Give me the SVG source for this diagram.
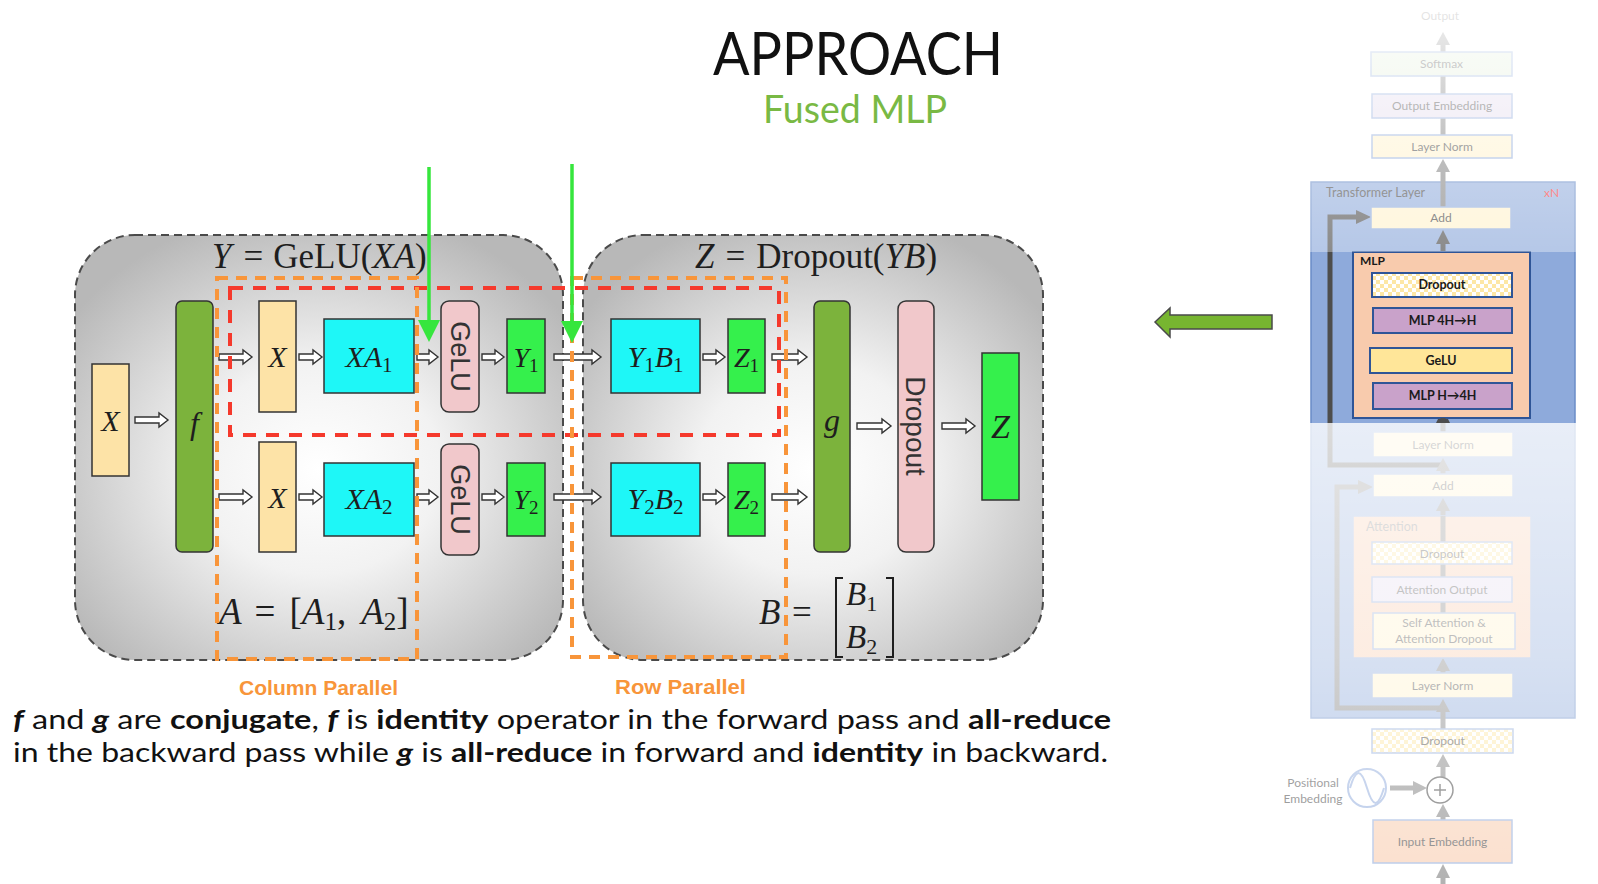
<svg xmlns="http://www.w3.org/2000/svg" width="1598" height="884" viewBox="0 0 1598 884">
<defs>
<radialGradient id="pg" cx="0.5" cy="0.55" r="0.62">
<stop offset="0" stop-color="#ffffff"/>
<stop offset="0.4" stop-color="#f2f2f2"/>
<stop offset="1" stop-color="#b8b8b8"/>
</radialGradient>
<linearGradient id="fadeTop" x1="0" y1="0" x2="0" y2="1">
<stop offset="0" stop-color="#ffffff" stop-opacity="0.9"/>
<stop offset="0.6" stop-color="#ffffff" stop-opacity="0.5"/>
<stop offset="1" stop-color="#ffffff" stop-opacity="0.35"/>
</linearGradient>
<linearGradient id="fadeBot" x1="0" y1="0" x2="0" y2="1">
<stop offset="0" stop-color="#ffffff" stop-opacity="0.8"/>
<stop offset="0.5" stop-color="#ffffff" stop-opacity="0.65"/>
<stop offset="1" stop-color="#ffffff" stop-opacity="0.4"/>
</linearGradient>
<pattern id="chk" width="8" height="8" patternUnits="userSpaceOnUse">
<rect width="8" height="8" fill="#ffffff"/>
<rect width="4" height="4" fill="#fde7a5"/>
<rect x="4" y="4" width="4" height="4" fill="#fde7a5"/>
</pattern>
<style>
.panel{fill:url(#pg);stroke:#4a4a4a;stroke-width:2;stroke-dasharray:8 5}
.bx{stroke:#333;stroke-width:1.5}
.xb{fill:#fde3a7}
.fg{fill:#7cb33c}
.cy{fill:#1ef7f7}
.pk{fill:#f1c8cb}
.gr{fill:#35f04c}
.dar{fill:#fff;stroke:#333;stroke-width:1.4}
.m{font-family:"Liberation Serif",serif;fill:#1e1e1e}
.it{font-style:italic}
.rot{font-family:"Liberation Sans",Arial,sans-serif;fill:#333}
.red{fill:none;stroke:#f5392c;stroke-width:4;stroke-dasharray:13 10}
.org{fill:none;stroke:#f8953a;stroke-width:4;stroke-dasharray:11 8}
.ga{stroke:#36e63d;stroke-width:3.5;fill:none}
.gah{fill:#36e63d}
.lbl{font-family:"Liberation Sans",Arial,sans-serif;font-weight:bold;font-size:21px;fill:#f8953a}
.body{font-family:Lato,"Open Sans",sans-serif;font-size:27px;fill:#111}
.b{font-weight:bold}
.bi{font-weight:bold;font-style:italic}
.tb{stroke:#8faadc;stroke-width:1.5}
.mb{stroke:#2f5597;stroke-width:2}
.t{font-family:Lato,"Open Sans",sans-serif;font-size:12px;fill:#404040;text-anchor:middle}
.tk{font-family:Lato,"Open Sans",sans-serif;font-size:12.5px;fill:#1a1a1a;font-weight:bold;text-anchor:middle}
.cn{stroke:#7f7f7f;stroke-width:5;fill:none}
.cnh{fill:#7f7f7f}
.cd{stroke:#4d4d4d;stroke-width:5;fill:none}
.cdh{fill:#4d4d4d}
</style>
</defs>
<rect width="1598" height="884" fill="#ffffff"/>

<g id="title">
<text x="713" y="75" font-family="Lato,'Open Sans',sans-serif" font-size="60" fill="#111" textLength="290" lengthAdjust="spacingAndGlyphs">APPROACH</text>
<text x="763" y="123" font-family="Lato,'Open Sans',sans-serif" font-size="39" fill="#79b944" textLength="184" lengthAdjust="spacingAndGlyphs">Fused MLP</text>
</g>

<g id="panel-left">
<rect class="panel" x="75" y="235" width="488" height="425" rx="60"/>
<text class="m" x="212" y="268" font-size="35"><tspan class="it">Y</tspan><tspan dx="12">=</tspan><tspan dx="10">GeLU(</tspan><tspan class="it">XA</tspan>)</text>
<text class="m" x="219" y="624" font-size="37"><tspan class="it">A</tspan><tspan dx="13">=</tspan><tspan dx="14">[</tspan><tspan class="it">A</tspan><tspan font-size="25" dy="6">1</tspan><tspan dy="-6">,</tspan><tspan dx="15" class="it">A</tspan><tspan font-size="25" dy="6">2</tspan><tspan dy="-6">]</tspan></text>
</g>
<g id="panel-right">
<rect class="panel" x="583" y="235" width="460" height="425" rx="60"/>
<text class="m" x="695" y="268" font-size="35"><tspan class="it">Z</tspan><tspan dx="11">=</tspan><tspan dx="11">Dropout(</tspan><tspan class="it">YB</tspan>)</text>
<text class="m it" x="759" y="624" font-size="35">B</text>
<text class="m" x="792" y="624" font-size="35">=</text>
<path d="M843 578 H836 V657 H843 M886 578 H893 V657 H886" fill="none" stroke="#1e1e1e" stroke-width="2"/>
<text class="m" x="846" y="605" font-size="33"><tspan class="it">B</tspan><tspan font-size="22" dy="6">1</tspan></text>
<text class="m" x="846" y="648" font-size="33"><tspan class="it">B</tspan><tspan font-size="22" dy="6">2</tspan></text>
</g>

<g id="node-x-in"><rect class="bx xb" x="92" y="364" width="37" height="112"/><text class="m it" x="110.5" y="431" font-size="30" text-anchor="middle">X</text></g>
<g id="node-f"><rect class="bx fg" x="176" y="301" width="37" height="251" rx="6"/><text class="m it" x="194.5" y="434" font-size="32" text-anchor="middle">f</text></g>

<g id="node-x1"><rect class="bx xb" x="259" y="301" width="37" height="111"/><text class="m it" x="277.5" y="367" font-size="30" text-anchor="middle">X</text></g>
<g id="node-xa1"><rect class="bx cy" x="324" y="319" width="90" height="74"/><text class="m" x="369" y="367" font-size="30" text-anchor="middle"><tspan class="it">XA</tspan><tspan font-size="21" dy="5">1</tspan></text></g>
<g id="node-gelu1"><rect class="bx pk" x="441" y="301" width="38" height="111" rx="8"/><text class="rot" transform="translate(460 356.5) rotate(90)" x="0" y="9.5" font-size="27" text-anchor="middle">GeLU</text></g>
<g id="node-y1"><rect class="bx gr" x="507" y="319" width="38" height="74"/><text class="m" x="526" y="367" font-size="28" text-anchor="middle"><tspan class="it">Y</tspan><tspan font-size="19" dy="5">1</tspan></text></g>
<g id="node-y1b1"><rect class="bx cy" x="611" y="319" width="89" height="74"/><text class="m" x="655.5" y="367" font-size="30" text-anchor="middle"><tspan class="it">Y</tspan><tspan font-size="21" dy="5">1</tspan><tspan class="it" dy="-5">B</tspan><tspan font-size="21" dy="5">1</tspan></text></g>
<g id="node-z1"><rect class="bx gr" x="728" y="319" width="37" height="74"/><text class="m" x="746.5" y="367" font-size="28" text-anchor="middle"><tspan class="it">Z</tspan><tspan font-size="19" dy="5">1</tspan></text></g>

<g id="node-x2"><rect class="bx xb" x="259" y="442" width="37" height="110"/><text class="m it" x="277.5" y="508" font-size="30" text-anchor="middle">X</text></g>
<g id="node-xa2"><rect class="bx cy" x="324" y="463" width="90" height="73"/><text class="m" x="369" y="509" font-size="30" text-anchor="middle"><tspan class="it">XA</tspan><tspan font-size="21" dy="5">2</tspan></text></g>
<g id="node-gelu2"><rect class="bx pk" x="441" y="444" width="38" height="111" rx="8"/><text class="rot" transform="translate(460 499.5) rotate(90)" x="0" y="9.5" font-size="27" text-anchor="middle">GeLU</text></g>
<g id="node-y2"><rect class="bx gr" x="507" y="463" width="38" height="73"/><text class="m" x="526" y="509" font-size="28" text-anchor="middle"><tspan class="it">Y</tspan><tspan font-size="19" dy="5">2</tspan></text></g>
<g id="node-y2b2"><rect class="bx cy" x="611" y="463" width="89" height="73"/><text class="m" x="655.5" y="509" font-size="30" text-anchor="middle"><tspan class="it">Y</tspan><tspan font-size="21" dy="5">2</tspan><tspan class="it" dy="-5">B</tspan><tspan font-size="21" dy="5">2</tspan></text></g>
<g id="node-z2"><rect class="bx gr" x="728" y="463" width="37" height="73"/><text class="m" x="746.5" y="509" font-size="28" text-anchor="middle"><tspan class="it">Z</tspan><tspan font-size="19" dy="5">2</tspan></text></g>

<g id="node-g"><rect class="bx fg" x="814" y="301" width="36" height="251" rx="6"/><text class="m it" x="832" y="431" font-size="32" text-anchor="middle">g</text></g>
<g id="node-dropout"><rect class="bx pk" x="898" y="301" width="36" height="251" rx="8"/><text class="rot" transform="translate(916 426) rotate(90)" x="0" y="10" font-size="28" text-anchor="middle">Dropout</text></g>
<g id="node-z"><rect class="bx gr" x="982" y="353" width="37" height="147"/><text class="m it" x="1000.5" y="438" font-size="34" text-anchor="middle">Z</text></g>

<g id="connectors">
<path class="dar" d="M135 417 H159 V413 L168 420 L159 427 V423 H135 Z"/>
<path class="dar" d="M219 354 H243 V350 L252 357 L243 364 V360 H219 Z"/>
<path class="dar" d="M299 354 H313 V350 L322 357 L313 364 V360 H299 Z"/>
<path class="dar" d="M417 354 H429 V350 L438 357 L429 364 V360 H417 Z"/>
<path class="dar" d="M482 354 H495 V350 L504 357 L495 364 V360 H482 Z"/>
<path class="dar" d="M554 354 H592 V350 L601 357 L592 364 V360 H554 Z"/>
<path class="dar" d="M703 354 H716 V350 L725 357 L716 364 V360 H703 Z"/>
<path class="dar" d="M772 354 H798 V350 L807 357 L798 364 V360 H772 Z"/>
<path class="dar" d="M219 494 H243 V490 L252 497 L243 504 V500 H219 Z"/>
<path class="dar" d="M299 494 H313 V490 L322 497 L313 504 V500 H299 Z"/>
<path class="dar" d="M417 494 H429 V490 L438 497 L429 504 V500 H417 Z"/>
<path class="dar" d="M482 494 H495 V490 L504 497 L495 504 V500 H482 Z"/>
<path class="dar" d="M554 494 H592 V490 L601 497 L592 504 V500 H554 Z"/>
<path class="dar" d="M703 494 H716 V490 L725 497 L716 504 V500 H703 Z"/>
<path class="dar" d="M772 494 H798 V490 L807 497 L798 504 V500 H772 Z"/>
<path class="dar" d="M857 423 H882 V419 L891 426 L882 433 V429 H857 Z"/>
<path class="dar" d="M942 423 H966 V419 L975 426 L966 433 V429 H942 Z"/>
</g>

<g id="highlight-boxes">
<rect class="red" x="230" y="288" width="549" height="147"/>
<rect class="org" x="217" y="278" width="200" height="381"/>
<rect class="org" x="572" y="278" width="214" height="379"/>
</g>
<g id="column-parallel-label"><text class="lbl" x="239" y="695" textLength="159" lengthAdjust="spacingAndGlyphs">Column Parallel</text></g>
<g id="row-parallel-label"><text class="lbl" x="615" y="694" textLength="131" lengthAdjust="spacingAndGlyphs">Row Parallel</text></g>

<g id="green-arrows">
<line class="ga" x1="429" y1="167" x2="429" y2="322"/>
<polygon class="gah" points="418,320 440,320 429,342"/>
<line class="ga" x1="572" y1="164" x2="572" y2="323"/>
<polygon class="gah" points="561,321 583,321 572,343"/>
</g>

<g id="caption">
<text class="body" x="13" y="729" textLength="1098" lengthAdjust="spacingAndGlyphs"><tspan class="bi">f</tspan> and <tspan class="bi">g</tspan> are <tspan class="b">conjugate</tspan>, <tspan class="bi">f</tspan> is <tspan class="b">identity</tspan> operator in the forward pass and <tspan class="b">all-reduce</tspan></text>
<text class="body" x="13" y="762" textLength="1095" lengthAdjust="spacingAndGlyphs">in the backward pass while <tspan class="bi">g</tspan> is <tspan class="b">all-reduce</tspan> in forward and <tspan class="b">identity</tspan> in backward.</text>
</g>

<g id="big-arrow"><polygon points="1155,322 1170,308 1170,315 1272,315 1272,329 1170,329 1170,337" fill="#77b530" stroke="#4a4a4a" stroke-width="1.5"/></g>

<g id="transformer">
<rect x="1311" y="182" width="264" height="536" fill="#8eaadb" stroke="#6a8cc7" stroke-width="1.5"/>
<text x="1326" y="197" font-family="Lato,'Open Sans',sans-serif" font-size="12.5" fill="#404040">Transformer Layer</text>
<text x="1544" y="197" font-family="Lato,'Open Sans',sans-serif" font-size="12" fill="#ff2a2a">xN</text>

<g id="tl-connectors">
<line class="cn" x1="1443" y1="52" x2="1443" y2="44"/><polygon class="cnh" points="1436,45 1450,45 1443,32"/>
<line class="cn" x1="1443" y1="76" x2="1443" y2="94"/>
<line class="cn" x1="1443" y1="118" x2="1443" y2="135"/>
<line class="cn" x1="1443" y1="207" x2="1443" y2="170"/><polygon class="cnh" points="1436,172 1450,172 1443,159"/>
<line class="cd" x1="1443" y1="252" x2="1443" y2="242"/><polygon class="cdh" points="1436,244 1450,244 1443,230"/>
<path class="cd" d="M1443 465 H1330 V217 H1358"/><polygon class="cdh" points="1356,210 1356,224 1371,217"/>
<line class="cd" x1="1443" y1="297" x2="1443" y2="308"/>
<line class="cd" x1="1443" y1="333" x2="1443" y2="348"/>
<line class="cd" x1="1443" y1="373" x2="1443" y2="383"/>
<line class="cd" x1="1443" y1="432" x2="1443" y2="420"/><polygon class="cdh" points="1436,423 1450,423 1443,409"/>
<line class="cn" x1="1443" y1="474" x2="1443" y2="469"/><polygon class="cnh" points="1436,471 1450,471 1443,458"/>
<line class="cn" x1="1443" y1="516" x2="1443" y2="509"/><polygon class="cnh" points="1436,511 1450,511 1443,498"/>
<path class="cn" d="M1443 708 H1337 V487 H1360"/><polygon class="cnh" points="1358,480 1358,494 1373,487"/>
<line class="cn" x1="1443" y1="673" x2="1443" y2="669"/><polygon class="cnh" points="1436,671 1450,671 1443,658"/>
<line class="cn" x1="1443" y1="729" x2="1443" y2="710"/><polygon class="cnh" points="1436,712 1450,712 1443,699"/>
<line class="cn" x1="1443" y1="777" x2="1443" y2="765"/><polygon class="cnh" points="1436,767 1450,767 1443,754"/>
<line class="cn" x1="1390" y1="788" x2="1415" y2="788"/><polygon class="cnh" points="1413,781 1413,795 1427,788"/>
<line class="cn" x1="1443" y1="820" x2="1443" y2="815"/><polygon class="cnh" points="1436,817 1450,817 1443,804"/>
<line class="cn" x1="1443" y1="884" x2="1443" y2="876"/><polygon class="cnh" points="1436,878 1450,878 1443,864"/>
</g>

<text class="t" x="1440" y="20" font-size="12.5">Output</text>
<g id="tl-softmax"><rect class="tb" x="1371" y="52" width="141" height="24" fill="#e2efda"/><text class="t" x="1441.5" y="68">Softmax</text></g>
<g id="tl-outemb"><rect class="tb" x="1372" y="94" width="140" height="24" fill="#e4dcee"/><text class="t" x="1442" y="110">Output Embedding</text></g>
<g id="tl-ln-top"><rect class="tb" x="1372" y="135" width="140" height="23" fill="#fff2cc"/><text class="t" x="1442" y="151">Layer Norm</text></g>
<g id="tl-add-top"><rect class="tb" x="1371" y="207" width="140" height="22" fill="#fff2cc"/><text class="t" x="1441" y="222">Add</text></g>

<g id="tl-mlp">
<rect class="mb" x="1353" y="252" width="177" height="166" fill="#f8cbad"/>
<text x="1360" y="265" font-family="Lato,'Open Sans',sans-serif" font-size="12" font-weight="bold" fill="#1a1a1a">MLP</text>
<rect class="mb" x="1372" y="273" width="140" height="24" fill="url(#chk)"/><text class="tk" x="1442" y="289">Dropout</text>
<rect class="mb" x="1373" y="308" width="139" height="25" fill="#c9a2ca"/><text class="tk" x="1442.5" y="325">MLP 4H→H</text>
<rect class="mb" x="1370" y="348" width="142" height="25" fill="#ffe699"/><text class="tk" x="1441" y="365">GeLU</text>
<rect class="mb" x="1373" y="383" width="139" height="26" fill="#c9a2ca"/><text class="tk" x="1442.5" y="400">MLP H→4H</text>
</g>
<line class="cd" x1="1443" y1="418" x2="1443" y2="423"/>

<g id="tl-ln-mid"><rect class="tb" x="1373" y="432" width="140" height="25" fill="#fff2cc"/><text class="t" x="1443" y="449">Layer Norm</text></g>
<g id="tl-add-mid"><rect class="tb" x="1373" y="474" width="140" height="23" fill="#fff2cc"/><text class="t" x="1443" y="490">Add</text></g>
<g id="tl-attn">
<rect class="tb" x="1353" y="516" width="178" height="142" fill="#f8cbad"/>
<text x="1366" y="531" font-family="Lato,'Open Sans',sans-serif" font-size="12.5" fill="#7f7f7f">Attention</text>
<line class="cn" x1="1443" y1="516" x2="1443" y2="542"/>
<line class="cn" x1="1443" y1="564" x2="1443" y2="577"/>
<line class="cn" x1="1443" y1="602" x2="1443" y2="613"/>
<rect class="tb" x="1372" y="542" width="140" height="22" fill="url(#chk)"/><text class="t" x="1442" y="558">Dropout</text>
<rect class="tb" x="1372" y="577" width="140" height="25" fill="#e4dcee"/><text class="t" x="1442" y="594">Attention Output</text>
<rect class="tb" x="1373" y="613" width="142" height="36" fill="#fff2cc"/><text class="t" x="1444" y="627">Self Attention &amp;</text><text class="t" x="1444" y="643">Attention Dropout</text>
</g>
<g id="tl-ln-bot"><rect class="tb" x="1372" y="673" width="141" height="25" fill="#fff2cc"/><text class="t" x="1442.5" y="690">Layer Norm</text></g>
<g id="tl-dropout-bot"><rect class="tb" x="1372" y="729" width="141" height="24" fill="url(#chk)"/><text class="t" x="1442.5" y="745">Dropout</text></g>
<g id="tl-plus"><circle cx="1440" cy="790" r="13" fill="#fff" stroke="#404040" stroke-width="1.5"/><path d="M1434 790 H1446 M1440 784 V796" stroke="#404040" stroke-width="1.5"/></g>
<g id="tl-posemb">
<circle cx="1367" cy="788" r="19" fill="none" stroke="#8faadc" stroke-width="2"/>
<path d="M1350 788 C1356 768 1361 768 1367 788 S1378 808 1384 788" fill="none" stroke="#8faadc" stroke-width="2"/>
<text class="t" x="1313" y="787">Positional</text><text class="t" x="1313" y="803">Embedding</text>
</g>
<g id="tl-inemb"><rect class="tb" x="1373" y="820" width="139" height="43" fill="#f8cbad"/><text class="t" x="1442.5" y="846">Input Embedding</text></g>

<rect x="1265" y="0" width="333" height="252" fill="url(#fadeTop)"/>
<rect x="1265" y="423" width="333" height="461" fill="url(#fadeBot)"/>
</g>
</svg>
